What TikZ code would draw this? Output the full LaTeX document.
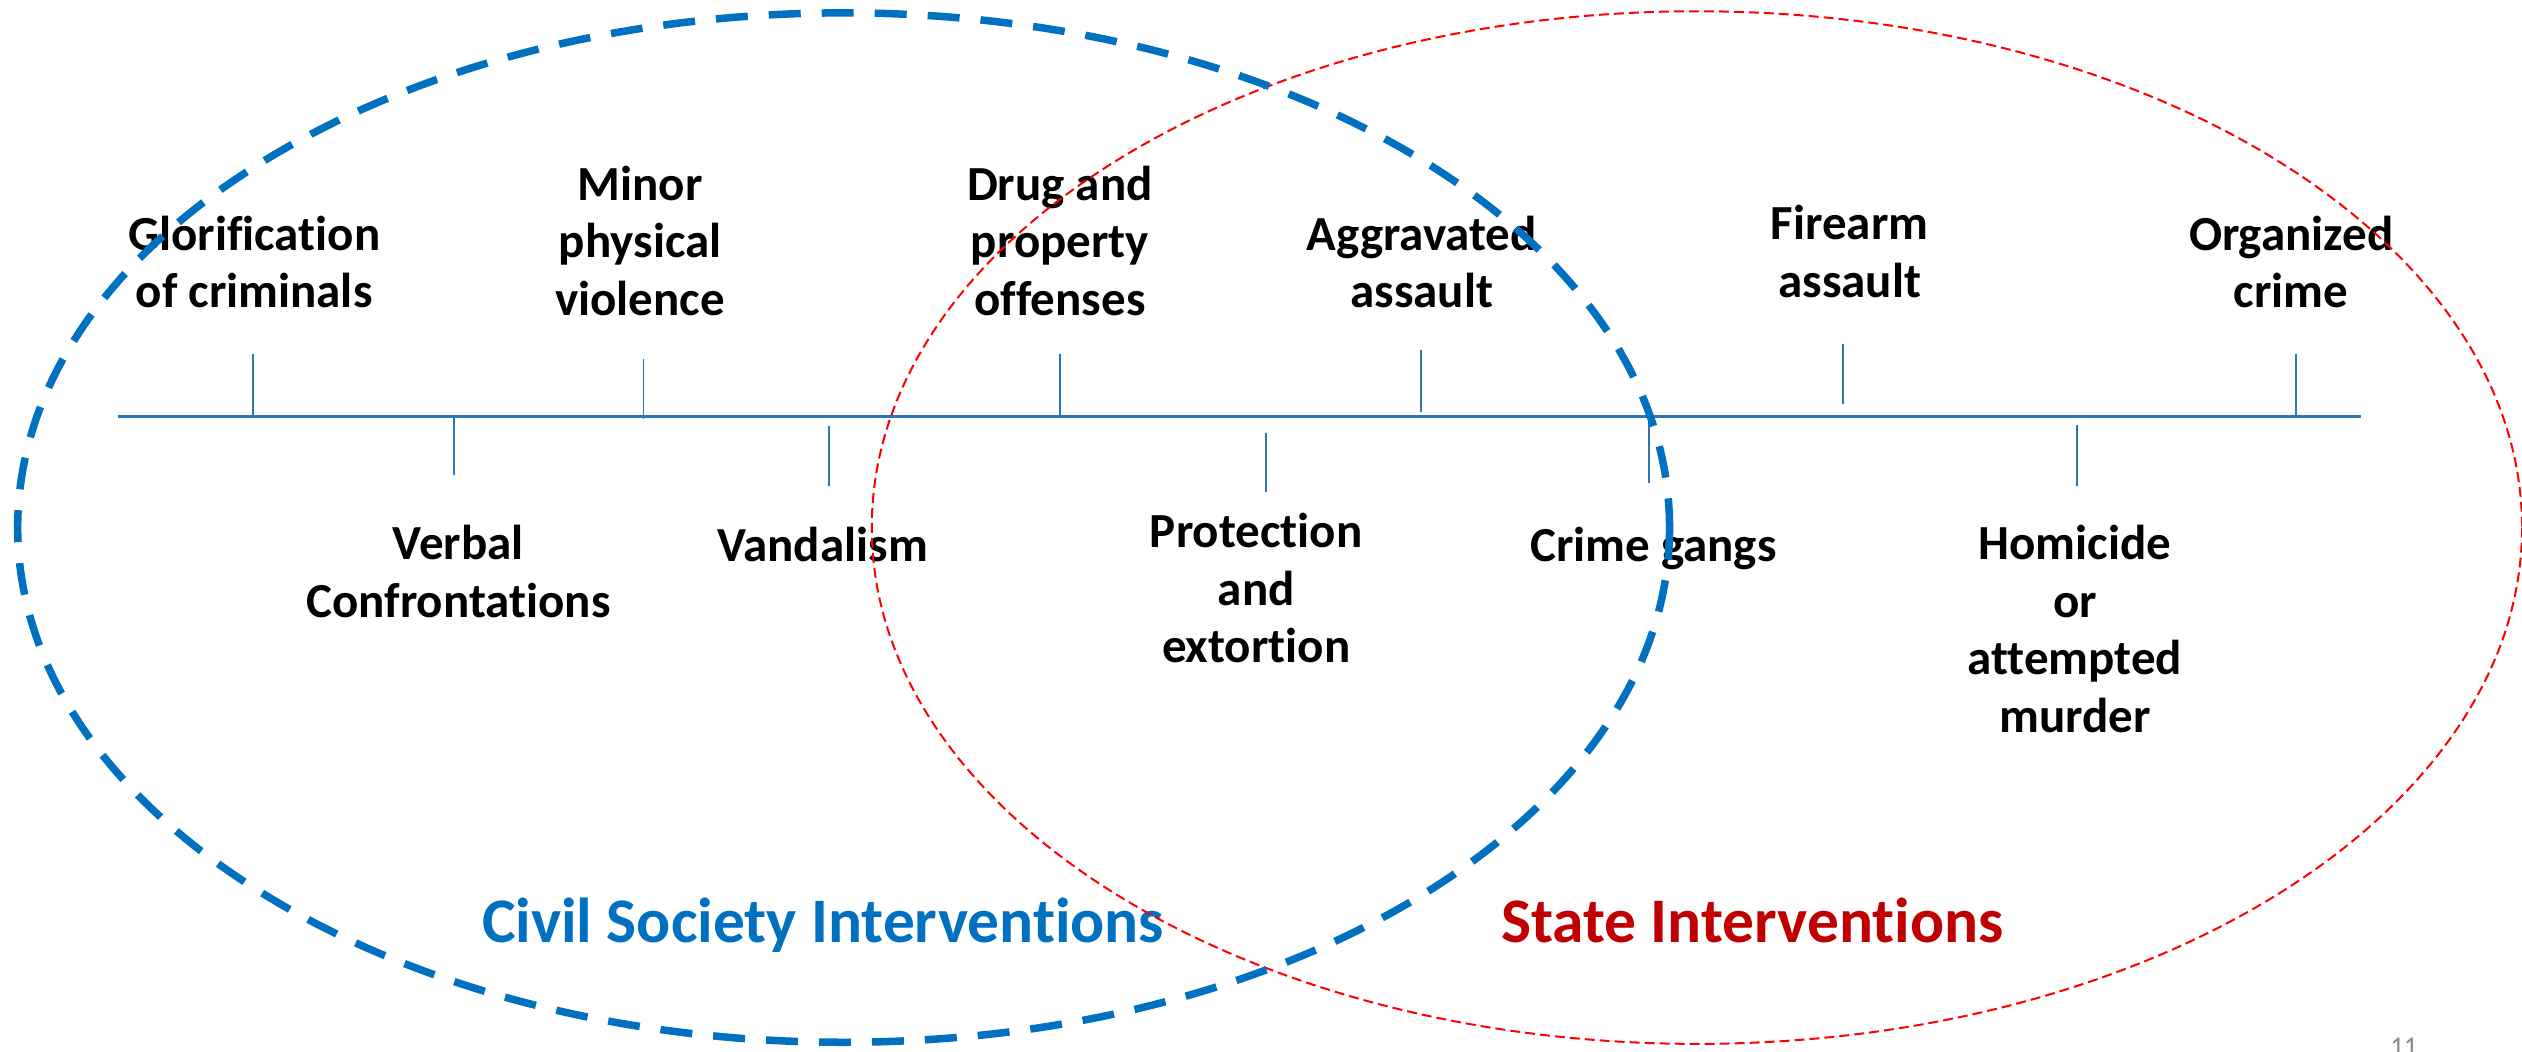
\documentclass[tikz,border=0pt]{standalone}
\usepackage{fontspec}
\setmainfont{Carlito}[Ligatures={NoCommon}, RawFeature={-liga;-clig;-dlig}]
\definecolor{civblue}{RGB}{0,112,192}
\definecolor{axisblue}{RGB}{46,117,182}
\definecolor{statered}{RGB}{192,0,0}
\definecolor{pgnum}{RGB}{137,137,137}
\newcommand{\lbl}[1]{\begin{tabular}[t]{@{}c@{}}#1\end{tabular}}
\begin{document}
\begin{tikzpicture}[x=1.60842pt,y=-1.60842pt,
  lab/.style={inner sep=0pt, anchor=base, text=black, font=\fontsize{49}{57.5}\selectfont\bfseries},
  biglab/.style={inner sep=0pt, anchor=base, font=\fontsize{63.5}{76}\selectfont\bfseries},
  axisline/.style={draw=axisblue, line width=2.8pt},
  tickline/.style={draw=axisblue, line width=1.7pt},
  civring/.style={draw=civblue, line width=7.5pt, dash pattern=on 32pt off 21pt},
  statering/.style={draw=red, line width=2pt, dash pattern=on 10pt off 5pt}]
\useasboundingbox (0,0) rectangle (1568,654);
% axis
\coordinate (axL) at (73.2,258.7);
\coordinate (axR) at (1467.6,258.7);
\draw[axisline] (axL) -- (axR);
% ticks above
\coordinate (t1a) at (157.5,220);   \coordinate (t1b) at (157.5,258.7);
\coordinate (t3a) at (400,223.4);   \coordinate (t3b) at (400,260.7);
\coordinate (t5a) at (659,220);     \coordinate (t5b) at (659,258.7);
\coordinate (t7a) at (883.6,217.6); \coordinate (t7b) at (883.6,256);
\coordinate (t9a) at (1146,214);    \coordinate (t9b) at (1146,251);
\coordinate (t11a) at (1427.6,220); \coordinate (t11b) at (1427.6,258.7);
% ticks below
\coordinate (t2a) at (282.4,258.7); \coordinate (t2b) at (282.4,295.4);
\coordinate (t4a) at (515.4,265);   \coordinate (t4b) at (515.4,302);
\coordinate (t6a) at (787,269);     \coordinate (t6b) at (787,306);
\coordinate (t8a) at (1025,262);    \coordinate (t8b) at (1025,300);
\coordinate (t10a) at (1291.5,264); \coordinate (t10b) at (1291.5,302);
\foreach \t in {1,...,11} {\draw[tickline] (t\t a) -- (t\t b);}
% labels above
\node[lab] (glor) at (158,155.5) {\lbl{Glorification\\of criminals}};
\node[lab] (minor) at (398,124.4) {\lbl{Minor\\physical\\violence}};
\node[lab] (drug) at (659,124.4) {\lbl{Drug and\\property\\offenses}};
\node[lab] (aggr) at (884,155.5) {\lbl{Aggravated\\assault}};
\node[lab] (fire) at (1150,149) {\lbl{Firearm\\assault}};
\node[lab] (org) at (1424.5,155.5) {\lbl{Organized\\crime}};
% labels below
\node[lab] (verb) at (285,348) {\lbl{Verbal\\Confrontations}};
\node[lab] (vand) at (511.4,349) {\lbl{Vandalism}};
\node[lab] (prot) at (781,340.4) {\lbl{Protection\\and\\extortion}};
\node[lab] (gang) at (1028,349) {\lbl{Crime gangs}};
\node[lab] (homi) at (1290,348) {\lbl{Homicide\\or\\attempted\\murder}};
% big labels
\node[biglab, text=civblue] (civil) at (511.7,585.7) {Civil Society Interventions};
\node[biglab, text=statered] (state) at (1089.5,585.7) {State Interventions};
% page number
\node[inner sep=0pt, anchor=north, text=pgnum, font=\fontsize{27}{32}\selectfont] (pg) at (1494.6,645.4) {11};
% rings
\draw[statering] (1055,328) ellipse [x radius=513, y radius=321];
\draw[civring] (524.5,328) ellipse [x radius=513.5, y radius=320];
\end{tikzpicture}
\end{document}
